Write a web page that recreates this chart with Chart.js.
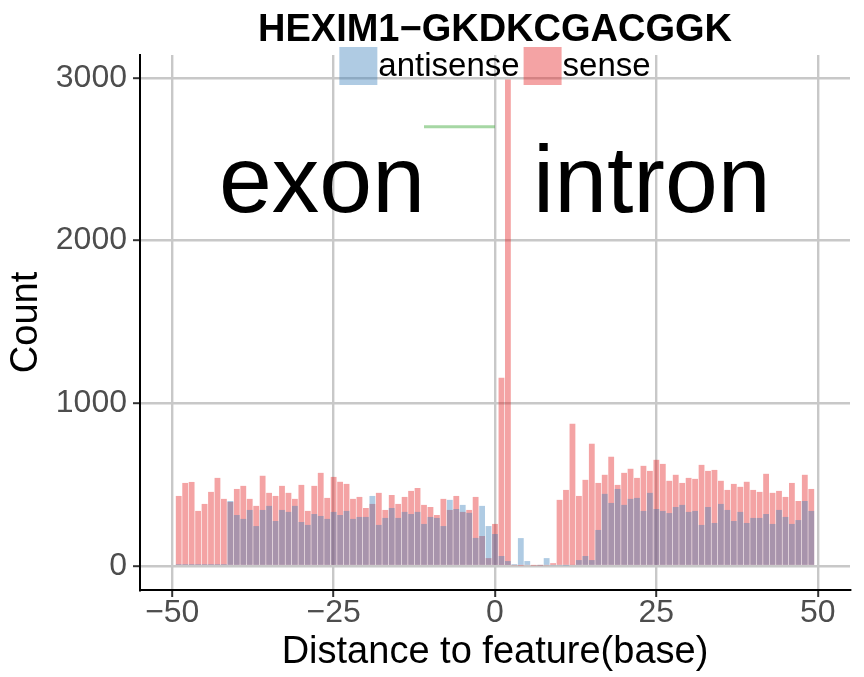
<!DOCTYPE html>
<html><head><meta charset="utf-8">
<script src="https://cdn.jsdelivr.net/npm/chart.js@4.4.1/dist/chart.umd.min.js"></script>
<style>html,body{margin:0;padding:0;background:#fff}canvas{display:block}</style>
</head><body>
<canvas id="c" width="864" height="677"></canvas>
<script>
const titleText = 'HEXIM1\u2212GKDKCGACGGK';
const positions = [-49,-48,-47,-46,-45,-44,-43,-42,-41,-40,-39,-38,-37,-36,-35,-34,-33,-32,-31,-30,
  -29,-28,-27,-26,-25,-24,-23,-22,-21,-20,-19,-18,-17,-16,-15,-14,-13,-12,-11,-10,
  -9,-8,-7,-6,-5,-4,-3,-2,-1,0,1,2,3,4,5,6,7,8,9,10,
  11,12,13,14,15,16,17,18,19,20,21,22,23,24,25,26,27,28,29,30,
  31,32,33,34,35,36,37,38,39,40,41,42,43,44,45,46,47,48,49];
const sense = [431,511,517,339,382,456,542,413,394,474,493,413,370,555,450,431,493,450,413,499,
  339,493,573,419,548,518,505,413,425,357,382,450,345,437,382,425,462,480,376,363,
  314,413,345,431,333,345,425,185,49,259,1158,2990,5,3,6,3,3,5,18,407,
  468,875,431,530,752,511,561,672,499,573,598,542,616,585,653,628,524,561,511,542,
  536,622,585,591,524,468,505,487,518,468,456,567,450,462,425,511,400,561,474];
const antisense = [12,12,12,12,12,12,12,12,400,314,290,345,246,345,370,277,345,333,370,271,
  253,320,308,290,333,314,339,290,302,302,431,253,296,357,296,333,320,333,259,302,
  296,246,407,351,376,327,173,370,246,197,62,31,12,172,31,0,5,49,5,5,
  3,8,37,62,37,222,444,388,474,376,413,419,339,450,351,339,326,363,376,333,
  339,253,363,265,382,345,277,333,265,296,296,320,259,345,302,259,283,400,339];
const seriesNames = ['antisense','sense'];
const seriesColors = ['rgba(55,126,184,0.4)','rgba(228,26,28,0.4)'];
const markerX = [-11, 0];
const markerY = [2700, 2700];
const yTicks = [0,1000,2000,3000];
const xTicks = [-50,-25,0,25,50];
const regionLabels = ['exon','intron'];
const regionX = [-26.8, 24.3];
const regionY = [2176, 2176];

const FONT = "'Liberation Sans', Arial, Helvetica, sans-serif";
const fmt = v => v < 0 ? '\u2212' + Math.abs(v) : String(v);

const overlay = {
  id: 'overlay',
  afterDatasetsDraw(chart) {
    const {ctx, scales: {x, y}} = chart;
    ctx.save();
    ctx.fillStyle = '#000';
    ctx.font = '95px ' + FONT;
    ctx.textAlign = 'center';
    ctx.textBaseline = 'alphabetic';
    regionLabels.forEach((t, i) => ctx.fillText(t, x.getPixelForValue(regionX[i]), y.getPixelForValue(regionY[i])));
    ctx.restore();
  },
  afterDraw(chart) {
    const {ctx, chartArea} = chart;
    const cx = (chartArea.left + chartArea.right) / 2;
    ctx.save();
    ctx.fillStyle = '#000';
    ctx.textAlign = 'center';
    ctx.textBaseline = 'alphabetic';
    ctx.font = 'bold 38px ' + FONT;
    ctx.fillText(titleText, cx, 41);
    ctx.font = '33px ' + FONT;
    const key = 38, gapText = 1, gapItem = 4;
    const widths = seriesNames.map(s => ctx.measureText(s).width);
    let total = 0;
    widths.forEach((w, i) => { total += key + gapText + w + (i < widths.length - 1 ? gapItem : 0); });
    let lx = cx - total / 2;
    const ly = 47;
    ctx.textAlign = 'left';
    ctx.textBaseline = 'middle';
    seriesNames.forEach((s, i) => {
      ctx.fillStyle = seriesColors[i];
      ctx.fillRect(lx, ly, key, key);
      ctx.fillStyle = '#000';
      ctx.fillText(s, lx + key + gapText, ly + key / 2 + 1);
      lx += key + gapText + widths[i] + gapItem;
    });
    ctx.restore();
  }
};

const ds = [
  { type: 'bar', label: seriesNames[0], data: positions.map((p, i) => ({x: p, y: antisense[i]})),
    backgroundColor: seriesColors[0], borderWidth: 0, grouped: false, barPercentage: 0.9, categoryPercentage: 1.0 },
  { type: 'bar', label: seriesNames[1], data: positions.map((p, i) => ({x: p, y: sense[i]})),
    backgroundColor: seriesColors[1], borderWidth: 0, grouped: false, barPercentage: 0.9, categoryPercentage: 1.0 },
  { type: 'line', label: 'marker', data: markerX.map((p, i) => ({x: p, y: markerY[i]})),
    borderColor: 'rgba(77,175,74,0.5)', borderWidth: 3, pointRadius: 0, fill: false, borderCapStyle: 'butt' }
];

new Chart(document.getElementById('c'), {
  type: 'bar',
  data: { datasets: ds },
  options: {
    responsive: false, animation: false, devicePixelRatio: 1,
    layout: { padding: { top: 55, right: 14, left: 0, bottom: 0 } },
    plugins: { legend: { display: false }, tooltip: { enabled: false }, title: { display: false } },
    scales: {
      x: {
        type: 'linear', min: -55, max: 55, offset: false,
        afterBuildTicks: s => { s.ticks = xTicks.map(v => ({value: v})); },
        afterFit: s => { s.height = 87; },
        grid: { offset: false, color: '#C8C8C8', lineWidth: 2.4, drawTicks: true, tickLength: 7, tickColor: '#333', tickWidth: 2 },
        border: { display: true, color: '#000', width: 2 },
        ticks: { font: { size: 32, family: FONT }, color: '#4D4D4D', padding: -3, maxRotation: 0, callback: v => fmt(v) },
        title: { display: true, text: 'Distance to feature(base)', color: '#000', font: { size: 38, family: FONT }, padding: { top: 0, bottom: 2 } }
      },
      y: {
        type: 'linear', min: -147, max: 3141,
        afterBuildTicks: s => { s.ticks = yTicks.map(v => ({value: v})); },
        afterFit: s => { s.width = 140; },
        grid: { color: '#C8C8C8', lineWidth: 2.4, drawTicks: true, tickLength: 7, tickColor: '#333', tickWidth: 2 },
        border: { display: true, color: '#000', width: 2 },
        ticks: { font: { size: 32, family: FONT }, color: '#4D4D4D', padding: 6, callback: v => fmt(v) },
        title: { display: true, text: 'Count', color: '#000', font: { size: 38, family: FONT }, padding: { top: 4, bottom: 0 } }
      }
    }
  },
  plugins: [overlay]
});
</script>
</body></html>
